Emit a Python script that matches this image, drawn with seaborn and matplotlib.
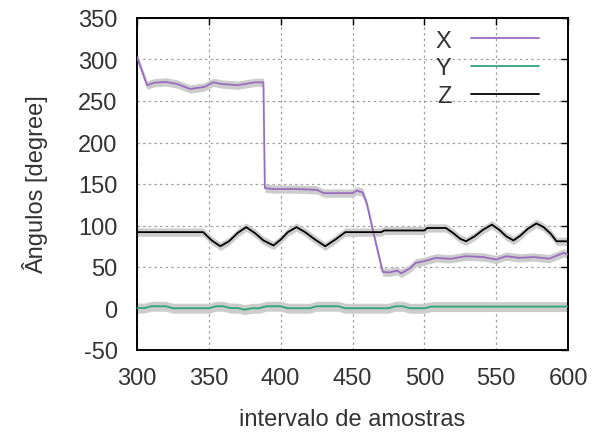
import numpy as np
import pandas as pd
import matplotlib
matplotlib.use("Agg")
import matplotlib.pyplot as plt
import seaborn as sns

# ---- data ----
x_samples = [300, 307, 312, 320, 328, 337, 347, 353, 359, 370, 382, 388, 389, 395, 410,
             425, 430, 440, 450, 453, 457, 460, 465, 471, 476, 481, 484, 490, 494, 499,
             508, 518, 529, 541, 550, 557, 566, 576, 587, 597, 600]
x_values = [303, 269, 272, 273, 270.5, 264.5, 267, 272.5, 270.5, 269, 272.5, 272.5, 145, 144, 144,
            143, 139, 139, 139, 142, 140, 126, 88, 44, 43.6, 45.6, 42.4, 48.4, 55, 56.6,
            61, 59.8, 63, 62, 59, 63, 61, 62, 60, 67, 65]

y_samples = [300, 305, 310, 315, 320, 325, 330, 335, 340, 345, 350, 355, 360, 365, 370, 375,
             380, 385, 390, 395, 400, 405, 410, 415, 420, 425, 430, 435, 440, 445, 450, 455,
             460, 465, 470, 475, 480, 485, 490, 495, 500, 505, 510, 520, 530, 540, 550, 560,
             570, 580, 590, 600]
y_values = [0.5, 0.5, 2.7, 2.7, 2.7, 0.3, 0.3, 0.3, 0.3, 0.3, 0.3, 2.7, 2.7, 0.5, 0.5, -1.4,
            0.3, 0.3, 2.7, 2.7, 2.7, 0.3, 0.3, 0.3, 0.3, 2.7, 2.7, 2.7, 2.7, 0.3, 0.3, 0.3,
            0.3, 0.3, 0.3, 0.3, 2.7, 2.7, 0.3, 0.3, 0.3, 2.3, 2.3, 2.3, 2.3, 2.3, 2.3, 2.3,
            2.3, 2.3, 2.3, 2.3]

z_samples = [300, 346, 352, 358, 364, 370, 376, 382, 388, 395, 400, 405, 411, 417, 424, 431,
             438, 445, 470, 472, 500, 502, 515, 520, 525, 529, 535, 541, 547, 552, 557, 562,
             567, 572, 578, 583, 588, 592, 600]
z_values = [92, 92, 82, 75, 81, 91, 98, 91, 82, 76, 83, 92, 98, 92, 83, 75,
            83, 92, 92, 94, 94, 97, 97, 91, 84, 81, 87, 95, 101, 95, 87, 82,
            88, 96, 102.5, 98, 90, 81, 81]

band_halfwidth = {"X": 5.0, "Y": 6.0, "Z": 5.0}
series_names = ["X", "Y", "Z"]
series_colors = {"X": "#9b6cc0", "Y": "#2fa67a", "Z": "#000000"}

x_ticks = [300, 350, 400, 450, 500, 550, 600]
y_ticks = [-50, 0, 50, 100, 150, 200, 250, 300, 350]
x_label = "intervalo de amostras"
y_label = "Ângulos [degree]"

# ---- build long table ----
frames = []
for name, xs, vs in [("X", x_samples, x_values), ("Y", y_samples, y_values), ("Z", z_samples, z_values)]:
    frames.append(pd.DataFrame({"amostra": xs, "angulo": vs, "eixo": name}))
df = pd.concat(frames, ignore_index=True)

sns.set_theme(style="white")
plt.rcParams["font.family"] = ["Liberation Sans", "DejaVu Sans"]
plt.rcParams["axes.unicode_minus"] = False

text_color = "#333333"

fig = plt.figure(figsize=(5.97, 4.35), dpi=100)
ax = fig.add_axes([137 / 597, 1 - 351 / 435, (568 - 137) / 597, (351 - 19) / 435])

# gray uncertainty bands
for name in series_names:
    sub = df[df["eixo"] == name]
    hw = band_halfwidth[name]
    ax.fill_between(sub["amostra"], sub["angulo"] - hw, sub["angulo"] + hw,
                    color="#cccccc", linewidth=0, zorder=1)

sns.lineplot(data=df, x="amostra", y="angulo", hue="eixo", hue_order=series_names,
             palette=series_colors, linewidth=1.3, ax=ax, zorder=3, sort=False,
             estimator=None)

ax.set_xlim(300, 600)
ax.set_ylim(-50, 350)
ax.set_xticks(x_ticks)
ax.set_yticks(y_ticks)
ax.grid(True, color="#a0a0a0", linestyle=(0, (2, 2.5)), linewidth=0.9, zorder=0)
ax.set_axisbelow(True)
for s in ax.spines.values():
    s.set_color("black")
    s.set_linewidth(1.4)
ax.tick_params(direction="in", length=5, width=1, top=True, right=True,
               labelsize=17, colors="black", labelcolor=text_color)
ax.tick_params(axis="y", pad=14)
ax.tick_params(axis="x", pad=12)

ax.set_xlabel(x_label, fontsize=17, color=text_color, labelpad=14)
ax.set_ylabel(y_label, fontsize=17, color=text_color, labelpad=22)

leg = ax.legend(loc="upper right", bbox_to_anchor=(0.965, 1.008), frameon=False,
                markerfirst=False, fontsize=17, handlelength=2.85,
                handletextpad=0.85, labelspacing=0.25, borderaxespad=0.2)
for t in leg.get_texts():
    t.set_color(text_color)

fig.savefig("out.png", dpi=100)
